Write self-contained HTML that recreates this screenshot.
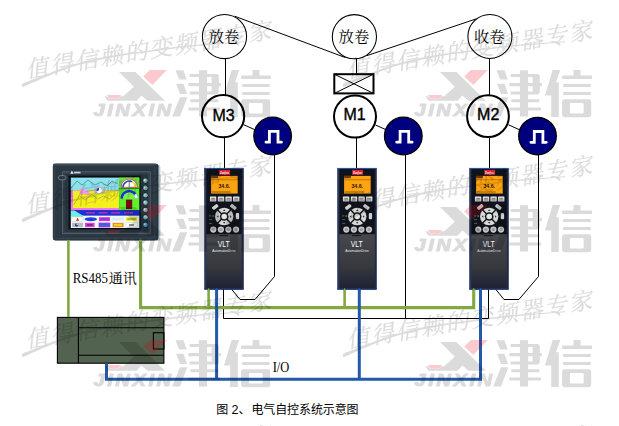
<!DOCTYPE html>
<html lang="zh"><head><meta charset="utf-8"><title>diagram</title><style>html,body{margin:0;padding:0;background:#fff;width:619px;height:426px;overflow:hidden;font-family:"Liberation Sans",sans-serif}svg{display:block}</style></head><body><svg width="619" height="426" viewBox="0 0 619 426" role="img" aria-label="图2、电气自控系统示意图">
<defs>
<linearGradient id="gb" x1="0" x2="1" y1="0" y2="0"><stop offset="0" stop-color="#44588a"/><stop offset="0.03" stop-color="#2f3a54"/><stop offset="0.07" stop-color="#2a3247"/><stop offset="0.5" stop-color="#23262f"/><stop offset="0.93" stop-color="#262e44"/><stop offset="0.97" stop-color="#222a44"/><stop offset="1" stop-color="#1c2f62"/></linearGradient>
<linearGradient id="gl" x1="0" x2="0" y1="0" y2="1"><stop offset="0" stop-color="#46484e"/><stop offset="0.6" stop-color="#36383e"/><stop offset="1" stop-color="#1d2133"/></linearGradient>
<linearGradient id="gk" x1="0" x2="0" y1="0" y2="1"><stop offset="0" stop-color="#f0f0f0"/><stop offset="1" stop-color="#b8b8b8"/></linearGradient>
<g id="drv">
<rect x="0" y="0" width="39.7" height="121.9" rx="1" fill="url(#gb)"/>
<rect x="0" y="0" width="39.7" height="1" fill="#2a5ab0"/>
<rect x="2.3" y="1.2" width="35.4" height="65.2" fill="#10131b"/>
<rect x="2.3" y="66.4" width="35.4" height="54.6" fill="url(#gl)"/>
<rect x="0" y="120.2" width="39.7" height="1.7" fill="#1d3a78" opacity="0.7"/>
<rect x="15.1" y="2" width="10.9" height="4.9" fill="#e3202b"/>
<text x="20.5" y="5.7" font-family="'Liberation Serif', serif" font-style="italic" font-weight="bold" font-size="3.9" fill="#fff" text-anchor="middle" textLength="9" lengthAdjust="spacingAndGlyphs">Danfoss</text>
<rect x="7" y="8" width="26.6" height="17.7" fill="#fca311"/>
<rect x="7" y="8" width="6.8" height="2.3" fill="#6b3a0a"/>
<rect x="7" y="11.6" width="26.6" height="0.7" fill="#8a5200" opacity="0.8"/>
<rect x="7.5" y="23.6" width="19" height="1" fill="#7a4600" opacity="0.8"/>
<text x="20.1" y="19.7" font-family="'Liberation Sans', sans-serif" font-size="5.5" font-weight="bold" fill="#2a1200" text-anchor="middle" textLength="11.6" lengthAdjust="spacingAndGlyphs">34.6.</text>
<rect x="5.8" y="28.6" width="6.4" height="5" rx="0.6" fill="url(#gk)"/>
<rect x="7.1" y="30" width="3.8" height="0.8" fill="#666"/><rect x="7.1" y="31.6" width="3.8" height="0.8" fill="#666"/>
<rect x="13.7" y="28.6" width="6.4" height="5" rx="0.6" fill="url(#gk)"/>
<rect x="15.0" y="30" width="3.8" height="0.8" fill="#666"/><rect x="15.0" y="31.6" width="3.8" height="0.8" fill="#666"/>
<rect x="21.3" y="28.6" width="6.4" height="5" rx="0.6" fill="url(#gk)"/>
<rect x="22.6" y="30" width="3.8" height="0.8" fill="#666"/><rect x="22.6" y="31.6" width="3.8" height="0.8" fill="#666"/>
<rect x="28.9" y="28.6" width="6.4" height="5" rx="0.6" fill="url(#gk)"/>
<rect x="30.2" y="30" width="3.8" height="0.8" fill="#666"/><rect x="30.2" y="31.6" width="3.8" height="0.8" fill="#666"/>
<ellipse cx="20.1" cy="48.6" rx="10" ry="9.5" fill="#181a20"/>
<ellipse cx="20.1" cy="48.6" rx="9.2" ry="8.7" fill="#d8d8d8"/>
<path d="M12.600000000000001 41.1L27.6 56.1M27.6 41.1L12.600000000000001 56.1" stroke="#14161c" stroke-width="1.4"/>
<circle cx="20.1" cy="48.6" r="4.3" fill="#14161c"/>
<circle cx="20.1" cy="48.6" r="2.8" fill="#e4e4e4"/>
<path d="M18.900000000000002 43.0h2.4l-1.2-1.6zM18.900000000000002 54.2h2.4l-1.2 1.6zM14.3 47.4v2.4l-1.6-1.2zM25.900000000000002 47.4v2.4l1.6-1.2z" fill="#333"/>
<rect x="7.800000000000001" y="37.400000000000006" width="6.6" height="3.4" rx="1" fill="#cfcfcf" transform="rotate(-38 11.100000000000001 39.1)"/>
<rect x="26.0" y="37.400000000000006" width="6.6" height="3.4" rx="1" fill="#cfcfcf" transform="rotate(38 29.3 39.1)"/>
<rect x="31.700000000000003" y="45.0" width="3.3" height="6.4" rx="1" fill="#cfcfcf"/>
<circle cx="9" cy="48.2" r="0.8" fill="#25d04a"/>
<rect x="5" y="47.6" width="2" height="0.8" fill="#9aa" opacity="0.7"/><rect x="5" y="51.4" width="3" height="0.8" fill="#9aa" opacity="0.6"/><rect x="5" y="55" width="3" height="0.8" fill="#9aa" opacity="0.6"/>
<circle cx="9.2" cy="61.7" r="3.1" fill="#c9c9c9"/><circle cx="9.2" cy="61.7" r="1.7" fill="#9a9a9a"/>
<circle cx="16.8" cy="61.7" r="3.1" fill="#c9c9c9"/><circle cx="16.8" cy="61.7" r="1.7" fill="#9a9a9a"/>
<circle cx="24.3" cy="61.7" r="3.1" fill="#c9c9c9"/><circle cx="24.3" cy="61.7" r="1.7" fill="#9a9a9a"/>
<circle cx="31.9" cy="61.7" r="3.1" fill="#c9c9c9"/><circle cx="31.9" cy="61.7" r="1.7" fill="#9a9a9a"/>
<rect x="15" y="67.3" width="9" height="0.9" fill="#0c0d10"/>
<text x="19.6" y="79.5" font-family="'Liberation Sans', sans-serif" font-size="8.6" fill="#fff" text-anchor="middle" textLength="12" lengthAdjust="spacingAndGlyphs">VLT</text>
<text x="19.9" y="83.8" font-family="'Liberation Sans', sans-serif" font-size="3.3" fill="#ececec" text-anchor="middle" textLength="23.5" lengthAdjust="spacingAndGlyphs">AutomationDrive</text>
</g>
<g id="enc"><circle r="18.8" fill="#00007f" stroke="#000" stroke-width="1.3"/><path d="M-6.6 6.2H-3.2V-4.6H5.4V6.2H8.8" fill="none" stroke="#fff" stroke-width="2.8" stroke-linecap="round"/></g>
<g id="slog" fill="#000" stroke="#000" stroke-width="0.55">
<text transform="translate(27 78) rotate(-9.3)" x="0" y="0" font-family="'Liberation Serif', 'Noto Serif CJK SC', serif" font-style="italic" font-size="23" stroke-width="0.3" textLength="248" lengthAdjust="spacing">值得信赖的变频器专家</text>
<path stroke="none" d="M22.7 83.5C25.2 82.5 32.3 79.8 37.8 77.6C43.3 75.5 49.6 73.0 55.5 70.8C61.4 68.6 67.4 66.4 73.3 64.6C79.2 62.7 85.2 61.1 91.1 59.7C97.0 58.3 103.2 57.1 108.9 56.1C114.6 55.0 119.5 54.2 125.0 53.4C130.5 52.6 135.4 52.3 141.8 51.5C148.2 50.6 156.3 49.5 163.6 48.5C170.9 47.6 178.8 46.5 185.4 45.8C192.0 45.1 193.1 45.1 202.9 44.3C212.7 43.5 237.2 41.8 244.0 41.2L244.0 42.2C237.2 42.7 212.7 44.7 202.9 45.5C193.1 46.3 192.0 46.4 185.4 47.2C178.8 47.9 170.9 49.1 163.6 50.1C156.3 51.1 148.2 52.3 141.8 53.1C135.4 54.0 130.5 54.4 125.0 55.2C119.5 56.0 114.6 56.8 108.9 57.9C103.2 59.0 97.0 60.2 91.1 61.7C85.2 63.1 79.2 64.7 73.3 66.6C67.4 68.5 61.4 70.7 55.5 73.0C49.6 75.3 43.3 78.0 37.8 80.4C32.3 82.7 25.2 86.0 22.7 87.1Q20.5 85.9 22.7 83.5Z"/>
</g>
<g id="logo" fill="#000">
<path d="M119.0 72.0 L135.4 72.0 L165.0 100.7 L147.5 100.7 L141.4 95.5 L136.6 100.7 L107.5 100.7 L104.5 96.3 L107.0 96.3 L109.4 98.9 L118.4 98.9 L120.6 96.3 L123.2 96.3 L133.8 86.8 Z"/>
<text transform="translate(93.5 116.3) scale(1.2 1)" font-family="'Liberation Sans', sans-serif" font-weight="bold" font-style="italic" font-size="16.8" letter-spacing="2.1" stroke="#000" stroke-width="1.1" stroke-linejoin="round">JINXIN</text>
<path d="M175.5 70.2L183.5 70.2L186.7 79.5L179.1 79.5ZM176.1 83.7L183.5 83.7L187.1 94.0L180.0 94.0ZM180.0 97.3L187.3 97.3L180.0 116.6L172.2 116.6ZM198.9 70.2L207.1 70.2L207.1 116.6L198.9 116.6ZM189.6 74.0L215.5 74.0L215.5 77.0L189.6 77.0ZM188.4 83.1L220.9 83.1L220.9 86.3L188.4 86.3ZM189.6 91.5L215.5 91.5L215.5 94.4L189.6 94.4ZM211.6 74.0L217.0 74.0L218.8 75.8L218.8 92.6L217.0 94.4L211.6 94.4ZM190.3 99.2L218.3 99.2L218.3 102.2L190.3 102.2ZM188.4 107.6L220.1 107.6L220.1 110.5L188.4 110.5ZM231.7 70.0L239.2 70.0L230.5 95.6L223.9 95.6ZM230.2 82.3L237.8 82.3L237.8 116.9L230.2 116.9ZM252.5 70.0L259.5 70.0L259.5 76.1L252.5 76.1ZM241.1 75.6L270.9 75.6L270.9 78.9L241.1 78.9ZM242.2 84.1L269.7 84.1L269.7 87.1L242.2 87.1ZM242.2 92.1L269.7 92.1L269.7 95.1L242.2 95.1Z"/>
<path fill-rule="evenodd" d="M243.7 99.3H267.6Q270.2 99.3 270.2 101.9V114.6Q270.2 117.2 267.6 117.2H243.7Q241.1 117.2 241.1 114.6V101.9Q241.1 99.3 243.7 99.3ZM250.1 103.1Q248.9 103.1 248.9 104.3V112.2Q248.9 113.4 250.1 113.4H261.5Q262.7 113.4 262.7 112.2V104.3Q262.7 103.1 261.5 103.1Z"/>
</g>
<g id="logor" fill="#e6001a">
<path d="M149.9 70.1 L166.9 70.1 L152.3 85.0 L143.2 76.5 Z"/>
<path d="M106.9 95.0 L121.1 95.0 L118.4 98.8 L109.4 98.8 Z"/>
</g>
</defs>
<rect width="619" height="426" fill="#fff"/>
<g stroke="#000" stroke-width="1" fill="none" stroke-linejoin="miter">
<path d="M234.6 16.2L345.2 57.5"/>
<path d="M367 55.6L476.2 18.9"/>
<path d="M225.5 58V96M224.5 137V168.5"/>
<path d="M356.5 58V74M356.5 138V168.5"/>
<path d="M489.5 57V96M489.5 137V168.5"/>
<path d="M243.5 124.6L255 129.8"/>
<path d="M375.5 125L386 129.7"/>
<path d="M508.5 124.8L520 130"/>
<path d="M274.5 154V276.5L255 299.5H240L228.4 285.3"/>
<path d="M405.5 154V318.5"/>
<path d="M538.5 154V276.5L518.9 299.5H504L492.3 285"/>
<path d="M223.5 288V318.5H488.5V288"/>
</g>
<g fill="#fff" stroke="#000">
<circle cx="224.5" cy="36.5" r="22.1" stroke-width="1.05"/>
<circle cx="354.4" cy="36.7" r="22.1" stroke-width="1.05"/>
<circle cx="489.9" cy="36.4" r="22" stroke-width="1.05"/>
<circle cx="223.1" cy="116.2" r="21.1" stroke-width="2"/>
<circle cx="355" cy="116.6" r="21" stroke-width="2"/>
<circle cx="488" cy="116.2" r="20.9" stroke-width="2"/>
<rect x="334.3" y="74.2" width="39.2" height="19.2" stroke-width="2"/>
<path d="M334.3 74.2L373.5 93.4M373.5 74.2L334.3 93.4" stroke-width="1"/>
</g>
<use href="#enc" x="272.6" y="136"/>
<use href="#enc" x="403.3" y="136"/>
<use href="#enc" x="537.5" y="136.1"/>
<text x="224.1" y="41.6" font-family="'Liberation Serif', 'Noto Serif CJK SC', serif" font-size="15.3" text-anchor="middle" fill="#000">放卷</text>
<text x="353.9" y="41.6" font-family="'Liberation Serif', 'Noto Serif CJK SC', serif" font-size="15.3" text-anchor="middle" fill="#000">放卷</text>
<text x="489.2" y="41.6" font-family="'Liberation Serif', 'Noto Serif CJK SC', serif" font-size="15.3" text-anchor="middle" fill="#000">收卷</text>
<text x="223.6" y="120.6" font-family="'Liberation Sans', sans-serif" font-size="16" text-anchor="middle" fill="#000" stroke="#000" stroke-width="0.35">M3</text>
<text x="354.5" y="120.4" font-family="'Liberation Sans', sans-serif" font-size="16" text-anchor="middle" fill="#000" stroke="#000" stroke-width="0.35">M1</text>
<text x="488.2" y="120.4" font-family="'Liberation Sans', sans-serif" font-size="16" text-anchor="middle" fill="#000" stroke="#000" stroke-width="0.35">M2</text>
<g id="hmi">
<rect x="53.6" y="164.8" width="106.8" height="76.3" rx="2.5" fill="#8a9196" opacity="0.5"/>
<rect x="52.9" y="163.8" width="105.6" height="76.5" rx="2.5" fill="#1f3a42"/>
<rect x="52.9" y="163.8" width="103.6" height="76.5" rx="2.5" fill="#2c3943"/>
<rect x="54.6" y="165.4" width="100.2" height="73" rx="1.8" fill="#2b3842" stroke="#34434e" stroke-width="1.2"/>
<rect x="52.9" y="163.8" width="103.9" height="1.3" rx="0.6" fill="#3d4c57"/>
<path d="M62.6 233.6V171.8H150.2V233.6Z" fill="#283540" stroke="#6f808b" stroke-width="0.6"/>
<path d="M64 232.3V173.2H148.8V232.3Z" fill="none" stroke="#4a5a66" stroke-width="0.5"/>
<rect x="68.6" y="175.6" width="72" height="53.6" fill="#0b0f13"/>
<rect x="70.8" y="177.6" width="48.3" height="13.2" fill="#8fe0f0"/>
<rect x="70.8" y="190.6" width="48.3" height="19.8" fill="#ee78ee"/>
<rect x="73" y="190.6" width="46.1" height="17.4" fill="#f4f020"/>
<path d="M71 188l6-7 5 4 6-5 7 5 6-3 6 4 5-5 6 3" stroke="#3a9a6a" stroke-width="0.8" fill="none"/>
<path d="M73.5 205l6-9 6 4 6-6 6 5 6-3 6 3 6-5" stroke="#b0b030" stroke-width="0.8" fill="none"/>
<path d="M79.6 194.5v-6.2q8 0 11 6.2z" fill="#f0a0d8"/>
<rect x="94" y="187" width="10.5" height="6.5" fill="#b8bcc0"/><circle cx="99" cy="190.3" r="2.6" fill="#fff"/><path d="M99 190.3v-2.6a2.6 2.6 0 0 0-2.3 3.8z" fill="#2040d0"/>
<rect x="119.1" y="177.6" width="20.2" height="32.8" fill="#60f030"/>
<rect x="119.1" y="177.6" width="20.2" height="10.2" fill="#70e040"/>
<path d="M121 187.3a8.2 8.2 0 0 1 16.4 0z" fill="#fff" stroke="#e03030" stroke-width="0.7"/>
<path d="M123 187.3a6.2 6.2 0 0 1 9 -5.5" fill="none" stroke="#2040d0" stroke-width="1.4"/>
<path d="M132 181.8a6.2 6.2 0 0 1 3.4 5.5" fill="none" stroke="#f0e020" stroke-width="1.4"/>
<path d="M129.2 187v-6" stroke="#444" stroke-width="0.5"/>
<rect x="119.1" y="188" width="20.2" height="0.8" fill="#208020"/>
<path d="M120.5 198.5a8.7 8.7 0 0 1 17.4 0h-2.6a6.1 6.1 0 0 0 -12.2 0z" fill="#2030e0"/>
<path d="M123.1 198.5a6.1 6.1 0 0 1 12.2 0z" fill="#7df24e"/><path d="M136.2 193.4a8.7 8.7 0 0 1 1.7 5.1h-2.6a6.1 6.1 0 0 0 -1.2-3.6z" fill="#f4f4f4"/>
<rect x="126" y="199.6" width="6.2" height="9.4" fill="#7a0a10"/>
<rect x="70.8" y="210.4" width="68.5" height="5.2" fill="#1830e0"/>
<rect x="86" y="212" width="9" height="1.6" fill="#c030c0" opacity="0.85"/>
<rect x="98.5" y="212" width="9" height="1.6" fill="#c030c0" opacity="0.85"/>
<rect x="111" y="212" width="9" height="1.6" fill="#c030c0" opacity="0.85"/>
<rect x="124" y="212" width="9" height="1.6" fill="#c030c0" opacity="0.85"/>
<rect x="70.8" y="215.6" width="68.5" height="12.4" fill="#f4f8f8"/>
<path d="M70.8 210.4h3.6l8.8 5.4v1H70.8z" fill="#6cf0e0"/>
<rect x="72" y="217" width="11" height="4.4" fill="#fff" stroke="#aaa" stroke-width="0.3"/><path d="M76 220.8l1.6-3 1.6 3z" fill="#e02020"/>
<ellipse cx="90.8" cy="219.2" rx="6.2" ry="2" fill="#2040e0"/>
<rect x="99" y="217.2" width="11" height="3.8" fill="#e030d0"/><rect x="100.2" y="218.2" width="8.6" height="1.8" fill="#8040e0"/>
<rect x="112.2" y="217.6" width="11.5" height="3" fill="#d8ecff"/>
<rect x="126" y="217.2" width="11.2" height="3.8" fill="#f0f020"/><rect x="127.4" y="218.3" width="8.4" height="1.4" fill="#a0a020"/>
<rect x="72" y="222.8" width="11" height="4.4" fill="#b8bcc0"/><circle cx="76.5" cy="225" r="1.7" fill="#2040d0"/><path d="M76.5 225v-1.7a1.7 1.7 0 0 1 1.7 1.7z" fill="#f0e020"/>
<rect x="85" y="222.8" width="9.6" height="4.4" fill="#e040e0"/><rect x="86.8" y="224" width="6" height="2" fill="#803090"/>
<rect x="98.6" y="222.6" width="11.6" height="4.8" fill="#9040e0"/><rect x="100" y="223.8" width="8.8" height="2.2" fill="#4060e0"/>
<rect x="112.6" y="222.8" width="11" height="4.4" fill="#f09020"/><rect x="114" y="224" width="8" height="2" fill="#f0d020"/>
<rect x="126" y="222.8" width="11.2" height="4.4" fill="#fff" stroke="#bbb" stroke-width="0.3"/><rect x="129" y="224.4" width="5" height="1.2" fill="#555"/>
<circle cx="145.4" cy="180.6" r="2.9" fill="#1c262e"/><circle cx="145.4" cy="180.6" r="2.3" fill="#7fb4b0"/><circle cx="144.8" cy="180.0" r="0.9" fill="#d8f0f0" opacity="0.8"/>
<circle cx="145.4" cy="187.9" r="2.9" fill="#1c262e"/><circle cx="145.4" cy="187.9" r="2.3" fill="#7fb4b0"/><circle cx="144.8" cy="187.3" r="0.9" fill="#d8f0f0" opacity="0.8"/>
<circle cx="145.4" cy="195.3" r="2.9" fill="#1c262e"/><circle cx="145.4" cy="195.3" r="2.3" fill="#7fb4b0"/><circle cx="144.8" cy="194.7" r="0.9" fill="#d8f0f0" opacity="0.8"/>
<circle cx="145.4" cy="202.6" r="2.9" fill="#1c262e"/><circle cx="145.4" cy="202.6" r="2.3" fill="#7fb4b0"/><circle cx="144.8" cy="202.0" r="0.9" fill="#d8f0f0" opacity="0.8"/>
<circle cx="145.4" cy="210.0" r="2.9" fill="#1c262e"/><circle cx="145.4" cy="210.0" r="2.3" fill="#7fb4b0"/><circle cx="144.8" cy="209.4" r="0.9" fill="#d8f0f0" opacity="0.8"/>
<circle cx="145.4" cy="217.3" r="2.9" fill="#1c262e"/><circle cx="145.4" cy="217.3" r="2.3" fill="#7fb4b0"/><circle cx="144.8" cy="216.8" r="0.9" fill="#d8f0f0" opacity="0.8"/>
<circle cx="145.4" cy="224.7" r="2.9" fill="#1c262e"/><circle cx="145.4" cy="224.7" r="2.3" fill="#4aa0d8"/><circle cx="144.8" cy="224.1" r="0.9" fill="#d8f0f0" opacity="0.8"/>
<rect x="69.6" y="169.8" width="11.6" height="4.2" fill="#2c3943"/><path d="M70.2 173.7l1.7-3.3 1.7 3.3z" fill="#e8eef2"/><rect x="73.8" y="171.6" width="6.8" height="1.9" fill="#d0d8de" opacity="0.9"/>
<rect x="58.4" y="175.6" width="7.6" height="4.2" rx="2.1" fill="#2b3842" stroke="#93a2ac" stroke-width="0.6"/>
</g>
<g stroke="#000" stroke-width="1.1">
<rect x="57.4" y="317.4" width="106.5" height="45.8" fill="#52634f"/>
<path d="M78.4 317.4V363.2M78.4 327.7H163.9M78.4 355.2H163.9" fill="none"/>
<rect x="153.4" y="332.7" width="10.5" height="16.3" fill="none"/>
</g>
<use href="#drv" x="204.1" y="167.9"/>
<use href="#drv" x="337.1" y="167.9"/>
<use href="#drv" x="469.1" y="167.9"/>
<g fill="none" stroke="#83a83f" stroke-linejoin="miter">
<path d="M68.4 241V317" stroke-width="2.6"/>
<path d="M140.6 241V307.6H473.7V290" stroke-width="3.1"/>
<path d="M208.6 307V290M344.6 307V290" stroke-width="2.6"/>
</g>
<path d="M67.1 241.5l1.3-2 1.3 2zM139.05 241.5l1.55-2.2 1.55 2.2zM207.3 290.5l1.3-2.8 1.3 2.8zM343.3 290.5l1.3-2.8 1.3 2.8zM472.1 290.5l1.6-2.8 1.6 2.8z" fill="#83a83f"/>
<g fill="none" stroke="#2259a8" stroke-linejoin="miter">
<path d="M106.5 363.5V379.2H480.5V290" stroke-width="3"/>
<path d="M216.6 379.2V290M359.3 379.2V290" stroke-width="3"/>
</g>
<path d="M215 290.5l1.6-3 1.6 3zM357.7 290.5l1.6-3 1.6 3zM478.9 290.5l1.6-3 1.6 3z" fill="#2259a8"/>
<text x="72.7" y="282.6" font-family="'Liberation Serif', serif" font-size="15" fill="#000" textLength="35.2" lengthAdjust="spacingAndGlyphs">RS485</text>
<text x="108.7" y="282.8" font-family="'Liberation Serif', 'Noto Serif CJK SC', serif" font-size="14" fill="#000">通讯</text>
<text x="272.7" y="372.1" font-family="'Liberation Serif', serif" font-size="14" fill="#000" textLength="16.6" lengthAdjust="spacingAndGlyphs">I/O</text>
<text x="216.2" y="414.2" font-family="'Liberation Sans', 'Noto Sans CJK SC', sans-serif" font-size="12" fill="#000">图</text>
<text x="231.6" y="414" font-family="'Liberation Sans', sans-serif" font-size="12.5" fill="#000">2</text>
<text x="238.6" y="414.2" font-family="'Liberation Sans', 'Noto Sans CJK SC', sans-serif" font-size="12" fill="#000">、</text>
<text x="251.4" y="414.2" font-family="'Liberation Sans', 'Noto Sans CJK SC', sans-serif" font-size="12" fill="#000" textLength="107.2" lengthAdjust="spacing">电气自控系统示意图</text>
<g opacity="0.145">
<use href="#slog" x="0" y="0"/>
<use href="#slog" x="0" y="135"/>
<use href="#slog" x="0" y="270"/>
<use href="#slog" x="0" y="405"/>
<use href="#logo" x="0" y="0"/>
<use href="#logo" x="0" y="135"/>
<use href="#logo" x="0" y="270"/>
<use href="#slog" x="321" y="0"/>
<use href="#slog" x="321" y="135"/>
<use href="#slog" x="321" y="270"/>
<use href="#slog" x="321" y="405"/>
<use href="#logo" x="321" y="0"/>
<use href="#logo" x="321" y="135"/>
<use href="#logo" x="321" y="270"/>
</g>
<g opacity="0.21">
<use href="#logor" x="0" y="0"/>
<use href="#logor" x="0" y="135"/>
<use href="#logor" x="0" y="270"/>
<use href="#logor" x="321" y="0"/>
<use href="#logor" x="321" y="135"/>
<use href="#logor" x="321" y="270"/>
</g>
</svg></body></html>
